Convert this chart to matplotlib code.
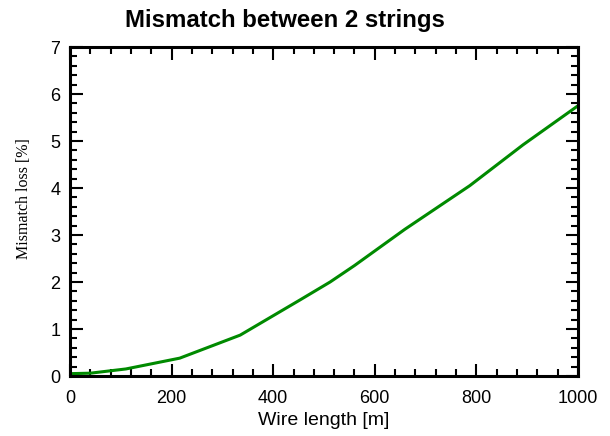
import matplotlib

matplotlib.use("Agg")

import matplotlib.pyplot as plt
from matplotlib.ticker import MultipleLocator

# wire length [m] and mismatch loss [%]
wire_length = [0, 40, 110, 216, 335, 453, 512, 560, 659, 787, 892, 1000]
mismatch_loss = [0.05, 0.06, 0.15, 0.38, 0.87, 1.62, 2.0, 2.35, 3.12, 4.05, 4.92, 5.75]

plt.rcParams["font.family"] = "Liberation Sans"

fig = plt.figure(figsize=(6.1, 4.36), dpi=100)
ax = fig.add_axes([0.1148, 0.1376, 0.8327, 0.7546])

ax.plot(wire_length, mismatch_loss, color="#008a00", lw=2.2, solid_capstyle="butt")

ax.set_xlim(0, 1000)
ax.set_ylim(0, 7)
ax.xaxis.set_major_locator(MultipleLocator(200))
ax.xaxis.set_minor_locator(MultipleLocator(40))
ax.yaxis.set_major_locator(MultipleLocator(1))
ax.yaxis.set_minor_locator(MultipleLocator(0.2))
ax.tick_params(which="both", direction="in", top=True, right=True, width=1.5, labelsize=13)
ax.tick_params(which="major", length=9)
ax.tick_params(axis="x", which="major", pad=10)
ax.tick_params(axis="y", which="major", pad=7)
ax.tick_params(which="minor", length=5)
for sp in ax.spines.values():
    sp.set_linewidth(2.2)

ax.set_xlabel("Wire length [m]", fontsize=14, labelpad=4)
ax.set_ylabel("Mismatch loss [%]", fontsize=11.5, family="Liberation Serif")
ax.yaxis.set_label_coords(-0.075, 0.54)
fig.text(285 / 610, 1 - 20 / 436, "Mismatch between 2 strings", ha="center", va="center",
         fontsize=17.3, fontweight="bold")

fig.savefig("out.png", dpi=100)
